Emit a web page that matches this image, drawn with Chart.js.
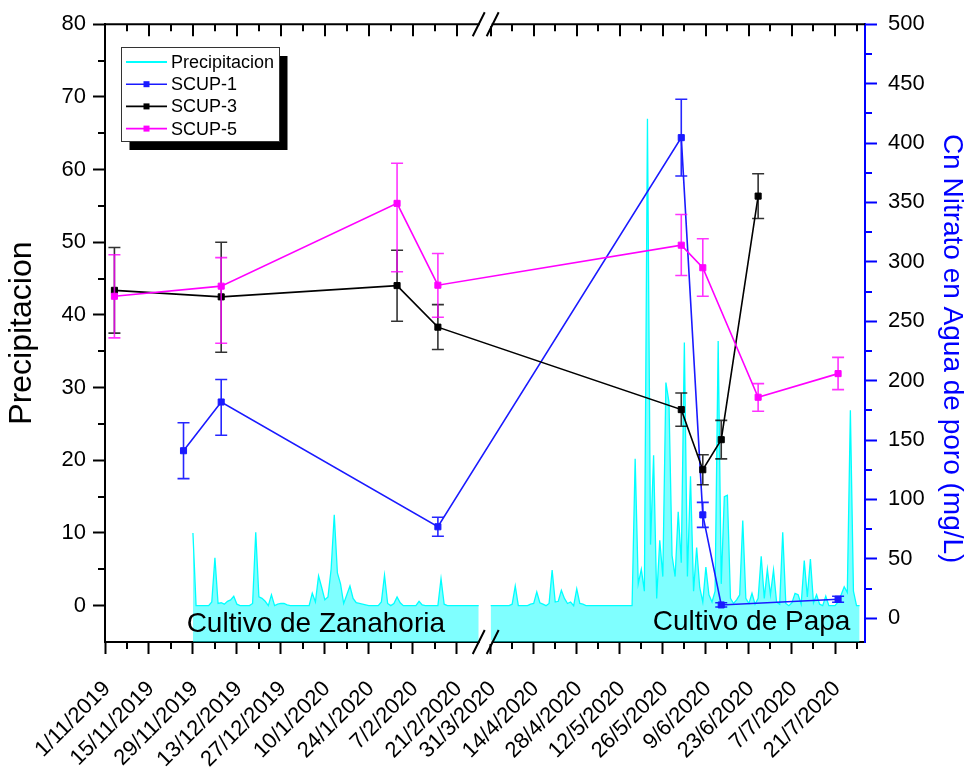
<!DOCTYPE html>
<html><head><meta charset="utf-8">
<script src="https://cdn.jsdelivr.net/npm/chart.js"></script>
<style>html,body{margin:0;padding:0;background:#fff}canvas{display:block}</style>
</head><body>
<canvas id="c" width="969" height="767"></canvas>
<script>
// ================= DATA =================
const xTickLabels = ['1/11/2019','15/11/2019','29/11/2019','13/12/2019','27/12/2019','10/1/2020','24/1/2020','7/2/2020','21/2/2020',
  '31/3/2020','14/4/2020','28/4/2020','12/5/2020','26/5/2020','9/6/2020','23/6/2020','7/7/2020','21/7/2020'];
const leftTickValues = [0,10,20,30,40,50,60,70,80];
const rightTickValues = [0,50,100,150,200,250,300,350,400,450,500];

// daily precipitation, first period (Cultivo de Zanahoria)
const precip1Start = '29/11/2019';
const precip1 = [10.0,0,0,0,0,0,0.5,6.6,0.3,0.4,
  0.2,0.6,0.8,1.3,0.2,0,0,0,0,0.3,
  10.1,1.2,1.0,0.6,0,1.5,0,0.2,0.3,0.3,
  0.1,0,0,0,0,0,0,0,1.7,0.5,
  4.1,2.5,0.8,1.2,5.0,12.5,4.5,3.0,0.3,1.5,
  2.7,1.0,0.4,0.3,0.2,0.1,0,0,0,0,
  0.5,4.2,0.3,0,0.3,1.2,0.4,0,0,0,
  0,0,0.6,0.1,0,0,0,0,0,3.7,
  0.2,0,0,0,0,0,0,0,0,0,
  0,0];
// daily precipitation, second period (Cultivo de Papa)
const precip2Start = '31/3/2020';
const precip2 = [0,0,0,0,0,0,0,0.2,2.7,0,
  0,0,0,0.2,0.3,1.9,0.4,0.2,0,0.3,
  4.9,0.5,0.6,2.1,1.0,0.3,0.5,0,2.3,0.3,
  0.2,0,0,0,0,0,0,0,0,0,
  0,0,0,0,0,0,0,20.2,3,5,
  2,67,8.4,20.7,1,9,4,30.7,28,6.9,
  4,12.9,5.9,36.2,4,17.8,2,8,2.5,0.5,
  5.3,1.5,0.5,2,36.4,3,15.0,15.2,1,0.3,
  0.8,1.5,11.7,1,0.3,1.7,0.2,1,6.8,1,
  5.0,1.5,4.9,0.5,0.2,10.1,0.3,0,0.4,1.7,
  1.5,0.2,6.2,1.2,6.4,0.4,1.5,0.2,0,1.3,
  0,0,0,0.5,1.5,2.6,1.8,26.9,2,0,
  0];

const scup1Dates = ['26/11/2019','8/12/2019','15/2/2020','1/6/2020','8/6/2020','14/6/2020','22/7/2020'];
const scup1Values = [141, 182, 77, 404.5, 87, 11.2, 16];
const scup1ErrPlus = [23.5, 19, 8, 32.3, 10.5, 1.8, 2.5];
const scup1ErrMinus = [23.5, 28, 8, 32.3, 10.5, 1.8, 2.5];

const scup3Dates = ['4/11/2019','8/12/2019','2/2/2020','15/2/2020','1/6/2020','8/6/2020','14/6/2020','26/6/2020'];
const scup3Values = [276, 270.5, 280, 245, 175.6, 125, 150.3, 355.3];
const scup3ErrPlus = [36, 46, 29.7, 19, 14, 12.6, 16.2, 18.8];
const scup3ErrMinus = [36, 46.6, 30, 18.8, 14, 12.6, 16.2, 18.8];

const scup5Dates = ['4/11/2019','8/12/2019','2/2/2020','15/2/2020','1/6/2020','8/6/2020','26/6/2020','22/7/2020'];
const scup5Values = [271, 279.5, 349.2, 280.3, 314, 295, 186, 205.9];
const scup5ErrPlus = [35, 24, 33.7, 26.7, 25.8, 24.4, 11.5, 13.7];
const scup5ErrMinus = [35, 48, 57.5, 27, 25.5, 24, 11.8, 13.5];

const annotations = [
  {text: 'Cultivo de Zanahoria', date: '27/11/2019', value: -3.65, align: 'left'},
  {text: 'Cultivo de Papa', date: '26/7/2020', value: -3.4, align: 'right'}
];

// ================= BROKEN DATE AXIS =================
const DAY = 86400000;
const parseDMY = s => { const [d, m, y] = s.split('/').map(Number); return Date.UTC(y, m - 1, d); };
const fmtDMY = t => { const d = new Date(t); return d.getUTCDate() + '/' + (d.getUTCMonth() + 1) + '/' + d.getUTCFullYear(); };
const addDays = (s, n) => fmtDMY(parseDMY(s) + n * DAY);
const AXIS_ORIGIN = parseDMY('1/11/2019');
const SEG1_END = '28/2/2020';
const SEG2_START = parseDMY('31/3/2020');
const SEG2_OFFSET = 122.8, SEG2_SCALE = 0.979, X_MAX = 242;
function axisPos(s) {
  const t = parseDMY(s);
  if (t < SEG2_START) return (t - AXIS_ORIGIN) / DAY;
  return SEG2_OFFSET + (t - SEG2_START) / DAY * SEG2_SCALE;
}
const xMajor = xTickLabels.map(l => ({value: axisPos(l), text: l}));
const xMinor = xTickLabels.map(l => addDays(l, 7))
  .filter(l => (parseDMY(l) < SEG2_START && axisPos(l) <= 118) || (parseDMY(l) >= SEG2_START && axisPos(l) < X_MAX))
  .map(axisPos);
const leftMinor = leftTickValues.slice(1).map((v, i) => (v + leftTickValues[i]) / 2);
const rightMinor = rightTickValues.slice(1).map((v, i) => (v + rightTickValues[i]) / 2);

const series = (dates, vals) => dates.map((d, i) => ({x: axisPos(d), y: vals[i]}));
const daily = (start, vals) => vals.map((v, i) => ({x: axisPos(addDays(start, i)), y: v}));

const FONT = "'Liberation Sans', Arial, sans-serif";

// ================= PLUGIN (error bars, minor ticks, frame, break, legend, notes) =================
const decor = {
  id: 'decor',
  beforeDatasetDraw(chart, args) {
    const ds = chart.data.datasets[args.index];
    if (!ds.errPlus) return;
    const ctx = chart.ctx, xs = chart.scales.x, ys = chart.scales[ds.yAxisID];
    ctx.save();
    ctx.strokeStyle = ds.errColor; ctx.lineWidth = 1.6;
    ds.data.forEach((p, i) => {
      const x = xs.getPixelForValue(p.x);
      const yT = ys.getPixelForValue(p.y + ds.errPlus[i]);
      const yB = ys.getPixelForValue(p.y - ds.errMinus[i]);
      ctx.beginPath();
      ctx.moveTo(x, yT); ctx.lineTo(x, yB);
      ctx.moveTo(x - 6, yT); ctx.lineTo(x + 6, yT);
      ctx.moveTo(x - 6, yB); ctx.lineTo(x + 6, yB);
      ctx.stroke();
    });
    ctx.restore();
  },
  afterDatasetsDraw(chart) {
    const ctx = chart.ctx, xs = chart.scales.x, yl = chart.scales.y;
    ctx.save();
    ctx.fillStyle = '#000';
    ctx.font = '28px ' + FONT;
    ctx.textBaseline = 'alphabetic';
    annotations.forEach(a => {
      ctx.textAlign = a.align;
      ctx.fillText(a.text, xs.getPixelForValue(axisPos(a.date)), yl.getPixelForValue(a.value));
    });
    ctx.restore();
  },
  afterDraw(chart) {
    const ctx = chart.ctx, a = chart.chartArea, xs = chart.scales.x, yl = chart.scales.y, yr = chart.scales.y2;
    ctx.save();
    // top frame line
    ctx.strokeStyle = '#000'; ctx.lineWidth = 2;
    ctx.beginPath(); ctx.moveTo(a.left - 1, a.top); ctx.lineTo(a.right, a.top); ctx.stroke();
    // top ticks (inward) and minor ticks
    ctx.beginPath();
    xMajor.forEach(t => { const x = Math.round(xs.getPixelForValue(t.value)); ctx.moveTo(x, a.top); ctx.lineTo(x, a.top + 12); });
    xMinor.forEach(v => { const x = Math.round(xs.getPixelForValue(v)); ctx.moveTo(x, a.top); ctx.lineTo(x, a.top + 7);
      ctx.moveTo(x, a.bottom); ctx.lineTo(x, a.bottom + 7); });
    leftMinor.forEach(v => { const y = Math.round(yl.getPixelForValue(v)); ctx.moveTo(a.left, y); ctx.lineTo(a.left - 7, y); });
    ctx.stroke();
    ctx.strokeStyle = '#0000ff';
    ctx.beginPath();
    rightMinor.forEach(v => { const y = Math.round(yr.getPixelForValue(v)); ctx.moveTo(a.right, y); ctx.lineTo(a.right + 7, y); });
    ctx.stroke();
    // axis break
    const b1 = xs.getPixelForValue(axisPos(SEG1_END));
    const b2 = xs.getPixelForValue(axisPos('31/3/2020')) + 2;
    [a.top, a.bottom].forEach(y => {
      ctx.fillStyle = '#fff';
      ctx.fillRect(b1 + 1, y - 2, b2 - b1 - 2, 4);
      ctx.strokeStyle = '#000'; ctx.lineWidth = 2;
      ctx.beginPath();
      [b1, b2].forEach(cx => { ctx.moveTo(cx - 6, y + 12); ctx.lineTo(cx + 6, y - 12); });
      ctx.stroke();
    });
    // legend
    const lx = 121, ly = 47, lw = 158, lh = 94;
    ctx.fillStyle = '#000'; ctx.fillRect(lx + 8.5, ly + 9, lw, lh);
    ctx.fillStyle = '#fff'; ctx.fillRect(lx, ly, lw, lh);
    ctx.strokeStyle = '#333'; ctx.lineWidth = 1; ctx.strokeRect(lx + 0.5, ly + 0.5, lw, lh);
    const items = chart.data.datasets.filter(d => !d.hideInLegend);
    ctx.font = '18px ' + FONT; ctx.textAlign = 'left'; ctx.textBaseline = 'middle';
    items.forEach((d, i) => {
      const y = ly + 15 + i * 22.2;
      ctx.strokeStyle = d.borderColor; ctx.lineWidth = d.errPlus ? 1.6 : 2;
      ctx.beginPath(); ctx.moveTo(lx + 5, y); ctx.lineTo(lx + 46, y); ctx.stroke();
      if (d.errPlus) { ctx.fillStyle = d.borderColor; ctx.fillRect(lx + 22.5, y - 3, 6, 6); }
      ctx.fillStyle = '#000';
      ctx.fillText(d.label, lx + 50, y + 1);
    });
    ctx.restore();
  }
};

// ================= CHART =================
const precipStyle = {yAxisID: 'y', borderColor: '#00ffff', backgroundColor: 'rgba(0,255,255,0.5)', fill: 'start',
  borderWidth: 1.3, pointRadius: 0, order: 10, tension: 0};
const scupStyle = c => ({yAxisID: 'y2', borderColor: c, backgroundColor: c, pointBackgroundColor: c, pointBorderColor: c,
  pointStyle: 'rect', pointRadius: 4.3, pointBorderWidth: 1, borderWidth: 1.6, tension: 0, fill: false});

new Chart(document.getElementById('c'), {
  type: 'line',
  data: {datasets: [
    Object.assign({label: 'Precipitacion', data: daily(precip1Start, precip1)}, precipStyle),
    Object.assign({label: 'Precipitacion', data: daily(precip2Start, precip2), hideInLegend: true}, precipStyle),
    Object.assign({label: 'SCUP-1', data: series(scup1Dates, scup1Values), errPlus: scup1ErrPlus, errMinus: scup1ErrMinus,
      errColor: 'rgba(0,0,255,0.85)', order: 2}, scupStyle('#1a1aff')),
    Object.assign({label: 'SCUP-3', data: series(scup3Dates, scup3Values), errPlus: scup3ErrPlus, errMinus: scup3ErrMinus,
      errColor: 'rgba(0,0,0,0.8)', order: 1}, scupStyle('#000000')),
    Object.assign({label: 'SCUP-5', data: series(scup5Dates, scup5Values), errPlus: scup5ErrPlus, errMinus: scup5ErrMinus,
      errColor: 'rgba(255,0,255,0.8)', order: 0}, scupStyle('#ff00ff'))
  ]},
  options: {
    responsive: false, animation: false,
    layout: {padding: {top: 24, left: 0, right: 0, bottom: 0}},
    plugins: {legend: {display: false}, tooltip: {enabled: false}},
    scales: {
      x: {
        type: 'linear', position: 'bottom', min: 0, max: X_MAX,
        afterBuildTicks: s => { s.ticks = xMajor.map(t => ({value: t.value})); },
        afterFit: s => { s.height = 125; },
        ticks: {autoSkip: false, minRotation: 45, maxRotation: 45, padding: 22, labelOffset: 2, color: '#000',
          font: {family: FONT, size: 22}, callback: (v, i) => xMajor[i].text},
        grid: {drawOnChartArea: false, drawTicks: true, tickLength: 12, tickWidth: 2, tickColor: '#000'},
        border: {display: true, color: '#000', width: 2}
      },
      y: {
        type: 'linear', position: 'left', min: -5, max: 80,
        afterBuildTicks: s => { s.ticks = leftTickValues.map(v => ({value: v})); },
        afterFit: s => { s.width = 105; },
        ticks: {padding: 7, color: '#000', font: {family: FONT, size: 22}, callback: v => String(v)},
        grid: {drawOnChartArea: false, drawTicks: true, tickLength: 12, tickWidth: 2, tickColor: '#000'},
        border: {display: true, color: '#000', width: 2},
        title: {display: true, text: 'Precipitacion', color: '#000', font: {family: FONT, size: 32}, padding: {top: 3, bottom: 0}}
      },
      y2: {
        type: 'linear', position: 'right', min: -20, max: 500,
        afterBuildTicks: s => { s.ticks = rightTickValues.map(v => ({value: v})); },
        afterFit: s => { s.width = 104; },
        ticks: {padding: 11, color: '#000', font: {family: FONT, size: 22}, callback: v => String(v)},
        grid: {drawOnChartArea: false, drawTicks: true, tickLength: 12, tickWidth: 2, tickColor: '#0000ff'},
        border: {display: true, color: '#0000ff', width: 2},
        title: {display: true, text: '    Cn Nitrato en Agua de poro (mg/L)', color: '#0000ff', font: {family: FONT, size: 28}, padding: {top: 0, bottom: 0}}
      }
    }
  },
  plugins: [decor]
});
</script>
</body></html>
